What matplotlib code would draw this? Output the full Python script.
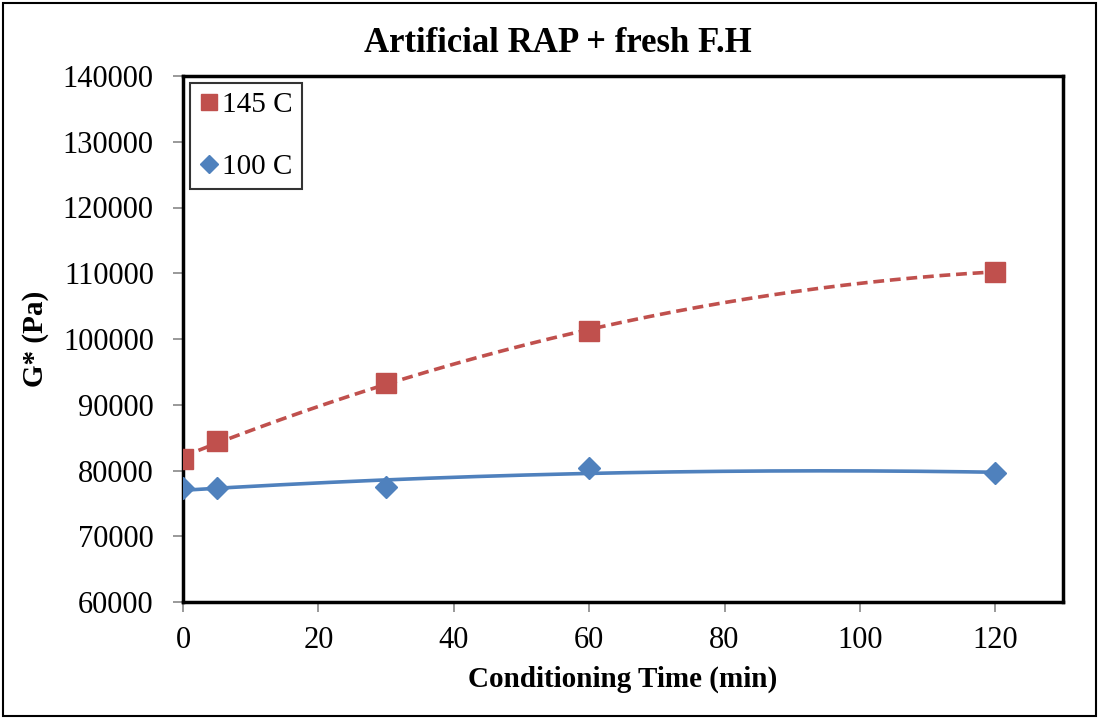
import numpy as np
import matplotlib.pyplot as plt

# Adatok
time_min = [0, 5, 30, 60, 120]
g_145 = [81750, 84500, 93300, 101250, 110250]
g_100 = [77350, 77350, 77500, 80350, 79600]

plt.rcParams['font.family'] = ['Liberation Serif', 'DejaVu Serif']

fig = plt.figure(figsize=(10.99, 7.19), dpi=100)
ax = fig.add_axes([183 / 1099, 1 - 602 / 719, (1063 - 183) / 1099, (602 - 76) / 719])

red = '#C0504D'
blue = '#4F81BD'

# Trendvonalak (másodfokú polinom, mint Excelben)
xs = np.linspace(0, 120, 200)
p_red = np.polyfit(time_min, g_145, 2)
p_blue = np.polyfit(time_min, g_100, 2)
ax.plot(xs, np.polyval(p_red, xs), color=red, linestyle=(0, (3, 1.6)), linewidth=2.6, zorder=2)
ax.plot(xs, np.polyval(p_blue, xs), color=blue, linestyle='-', linewidth=2.6, zorder=2)

ax.plot(time_min, g_145, linestyle='none', marker='s', markersize=14, color=red, label='145 C', zorder=3)
ax.plot(time_min, g_100, linestyle='none', marker='D', markersize=11, color=blue, label='100 C', zorder=3)

ax.set_xlim(0, 130)
ax.set_ylim(60000, 140000)
ax.set_xticks(range(0, 121, 20))
ax.set_yticks(range(60000, 140001, 10000))

for s in ax.spines.values():
    s.set_linewidth(2.5)
    s.set_color('black')
ax.tick_params(axis='both', direction='out', length=7, width=1.2, color='#888888', labelsize=22)
ax.tick_params(axis='y', pad=14)
ax.tick_params(axis='x', pad=10)

# Cím az ábra közepéhez igazítva (mint az Excelben)
fig.text(558 / 1099, 1 - 44 / 719, 'Artificial RAP + fresh F.H', fontsize=25, fontweight='bold',
         ha='center', va='center')
ax.set_xlabel('Conditioning Time (min)', fontsize=21, fontweight='bold', labelpad=8)
ax.set_ylabel('G* (Pa)', fontsize=21, fontweight='bold', labelpad=10)

leg = ax.legend(loc='upper left', fontsize=21, frameon=True, fancybox=False, borderpad=0.3,
                handletextpad=0.1, handlelength=0.7, labelspacing=1.2, borderaxespad=0.25,
                markerscale=0.85)
leg.get_frame().set_edgecolor('black')
leg.get_frame().set_linewidth(1.5)

# Külső keret
fig.patches.append(plt.Rectangle((0.003, 0.004), 0.994, 0.992, transform=fig.transFigure,
                                 fill=False, edgecolor='black', linewidth=1.5))

fig.savefig('out.png', dpi=100)
